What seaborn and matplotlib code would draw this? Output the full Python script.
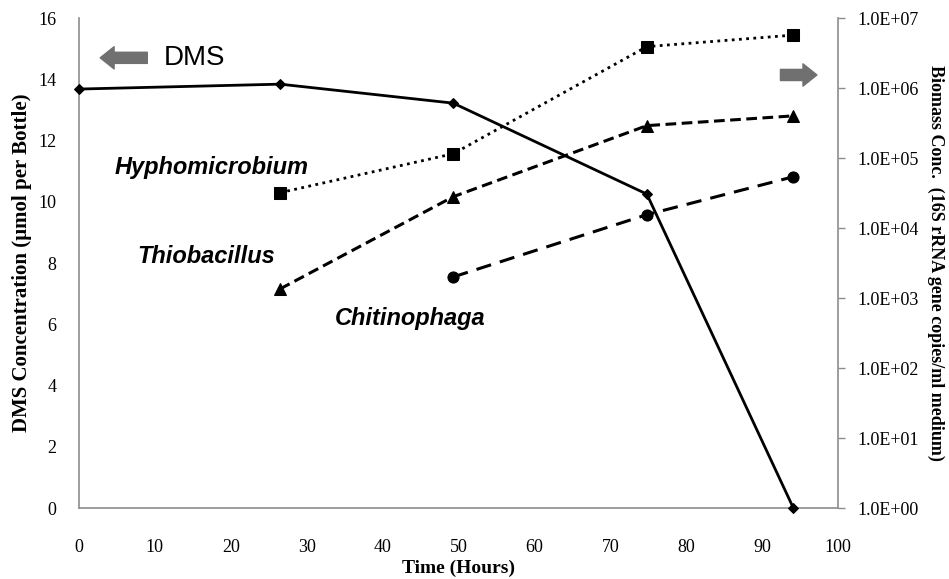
import matplotlib
matplotlib.use("Agg")
import matplotlib.pyplot as plt
import seaborn as sns
import numpy as np

# --- data ---
time_dms = [0, 26.5, 49.3, 74.8, 94.1]
dms_conc = [13.68, 13.84, 13.22, 10.25, 0.0]

time_bio = [26.5, 49.3, 74.8, 94.1]
hyphomicrobium = [3.2e4, 1.15e5, 3.9e6, 5.7e6]
thiobacillus = [1.35e3, 2.8e4, 2.9e5, 4.0e5]

time_chit = [49.3, 74.8, 94.1]
chitinophaga = [2.0e3, 1.55e4, 5.4e4]

x_ticks = list(range(0, 101, 10))
left_ticks = list(range(0, 17, 2))
right_ticks = [1e0, 1e1, 1e2, 1e3, 1e4, 1e5, 1e6, 1e7]
right_labels = ["1.0E+00", "1.0E+01", "1.0E+02", "1.0E+03",
                "1.0E+04", "1.0E+05", "1.0E+06", "1.0E+07"]

sns.set_style("white")
plt.rcParams.update({
    "text.color": "black",
    "axes.labelcolor": "black",
    "xtick.color": "black",
    "ytick.color": "black",
})
serif = "Liberation Serif"
sans = "Liberation Sans"

fig = plt.figure(figsize=(9.49, 5.79), dpi=100)
ax = fig.add_axes([0.0832, 0.1226, 0.8, 0.8463])
ax2 = ax.twinx()

# DMS on left axis
sns.lineplot(x=time_dms, y=dms_conc, ax=ax, color="black", linewidth=2,
             marker="D", markersize=5.5, markeredgecolor="black",
             clip_on=False, zorder=5)

# biomass on right (log) axis
sns.lineplot(x=time_bio, y=hyphomicrobium, ax=ax2, color="black",
             linewidth=2, linestyle=(0, (1, 1.6)), marker="s", markersize=8,
             markeredgecolor="black", clip_on=False)
sns.lineplot(x=time_bio, y=thiobacillus, ax=ax2, color="black",
             linewidth=2.2, linestyle=(0, (3.5, 1.8)), marker="^", markersize=8,
             markeredgecolor="black", clip_on=False)
sns.lineplot(x=time_chit, y=chitinophaga, ax=ax2, color="black",
             linewidth=2.2, linestyle=(0, (5, 3)), marker="o", markersize=8,
             markeredgecolor="black", clip_on=False)

# keep the DMS line visible above the twin axes
ax.set_zorder(ax2.get_zorder() + 1)
ax.patch.set_visible(False)

ax.set_xlim(0, 100)
ax.set_ylim(0, 16)
ax.set_xticks(x_ticks)
ax.set_yticks(left_ticks)
ax2.set_yscale("log")
ax2.set_ylim(1, 1e7)
ax2.set_yticks(right_ticks)
ax2.set_yticklabels(right_labels)
ax2.minorticks_off()

for a in (ax, ax2):
    a.spines["top"].set_visible(False)
    for side in ("left", "bottom", "right"):
        a.spines[side].set_color("#8c8c8c")
        a.spines[side].set_linewidth(1.2)
ax.spines["right"].set_visible(False)
ax2.spines["left"].set_visible(False)
ax2.spines["bottom"].set_visible(False)

ax.tick_params(axis="y", length=0, labelsize=13, pad=16)
ax.tick_params(axis="x", length=0, labelsize=13, pad=22)
ax2.tick_params(axis="y", length=5, width=1, color="#8c8c8c",
                labelsize=13, pad=9)
for lab in ax.get_xticklabels() + ax.get_yticklabels() + ax2.get_yticklabels():
    lab.set_fontfamily(serif)

ax.set_xlabel("Time (Hours)", fontfamily=serif, fontweight="bold",
              fontsize=14, labelpad=3)
ax.set_ylabel("DMS Concentration (µmol per Bottle)", fontfamily=serif,
              fontweight="bold", fontsize=15, labelpad=5)
ax2.set_ylabel("Biomass Conc.  (16S rRNA gene copies/ml medium)",
               fontfamily=serif, fontweight="bold", fontsize=13,
               rotation=-90, labelpad=18)

# species labels
ax.text(17.5, 11.13, "Hyphomicrobium", fontfamily=sans, fontstyle="italic",
        fontweight="bold", fontsize=17, ha="center", va="center")
ax.text(16.8, 8.2, "Thiobacillus", fontfamily=sans, fontstyle="italic",
        fontweight="bold", fontsize=17, ha="center", va="center")
ax.text(43.6, 6.2, "Chitinophaga", fontfamily=sans, fontstyle="italic",
        fontweight="bold", fontsize=17, ha="center", va="center")

# DMS label and axis arrows
ax.text(11.2, 14.7, "DMS", fontfamily=sans, fontsize=20,
        ha="left", va="center")
arrow = dict(arrowstyle="simple,head_width=0.8,head_length=0.5,tail_width=0.4",
             color="#707070", mutation_scale=20, shrinkA=0, shrinkB=0)
ax.annotate("", xy=(2.8, 14.7), xytext=(9.0, 14.7), arrowprops=arrow,
            annotation_clip=False)
ax.annotate("", xy=(97.2, 14.14), xytext=(92.4, 14.14), arrowprops=arrow,
            annotation_clip=False)

fig.savefig("out.png", dpi=100)
